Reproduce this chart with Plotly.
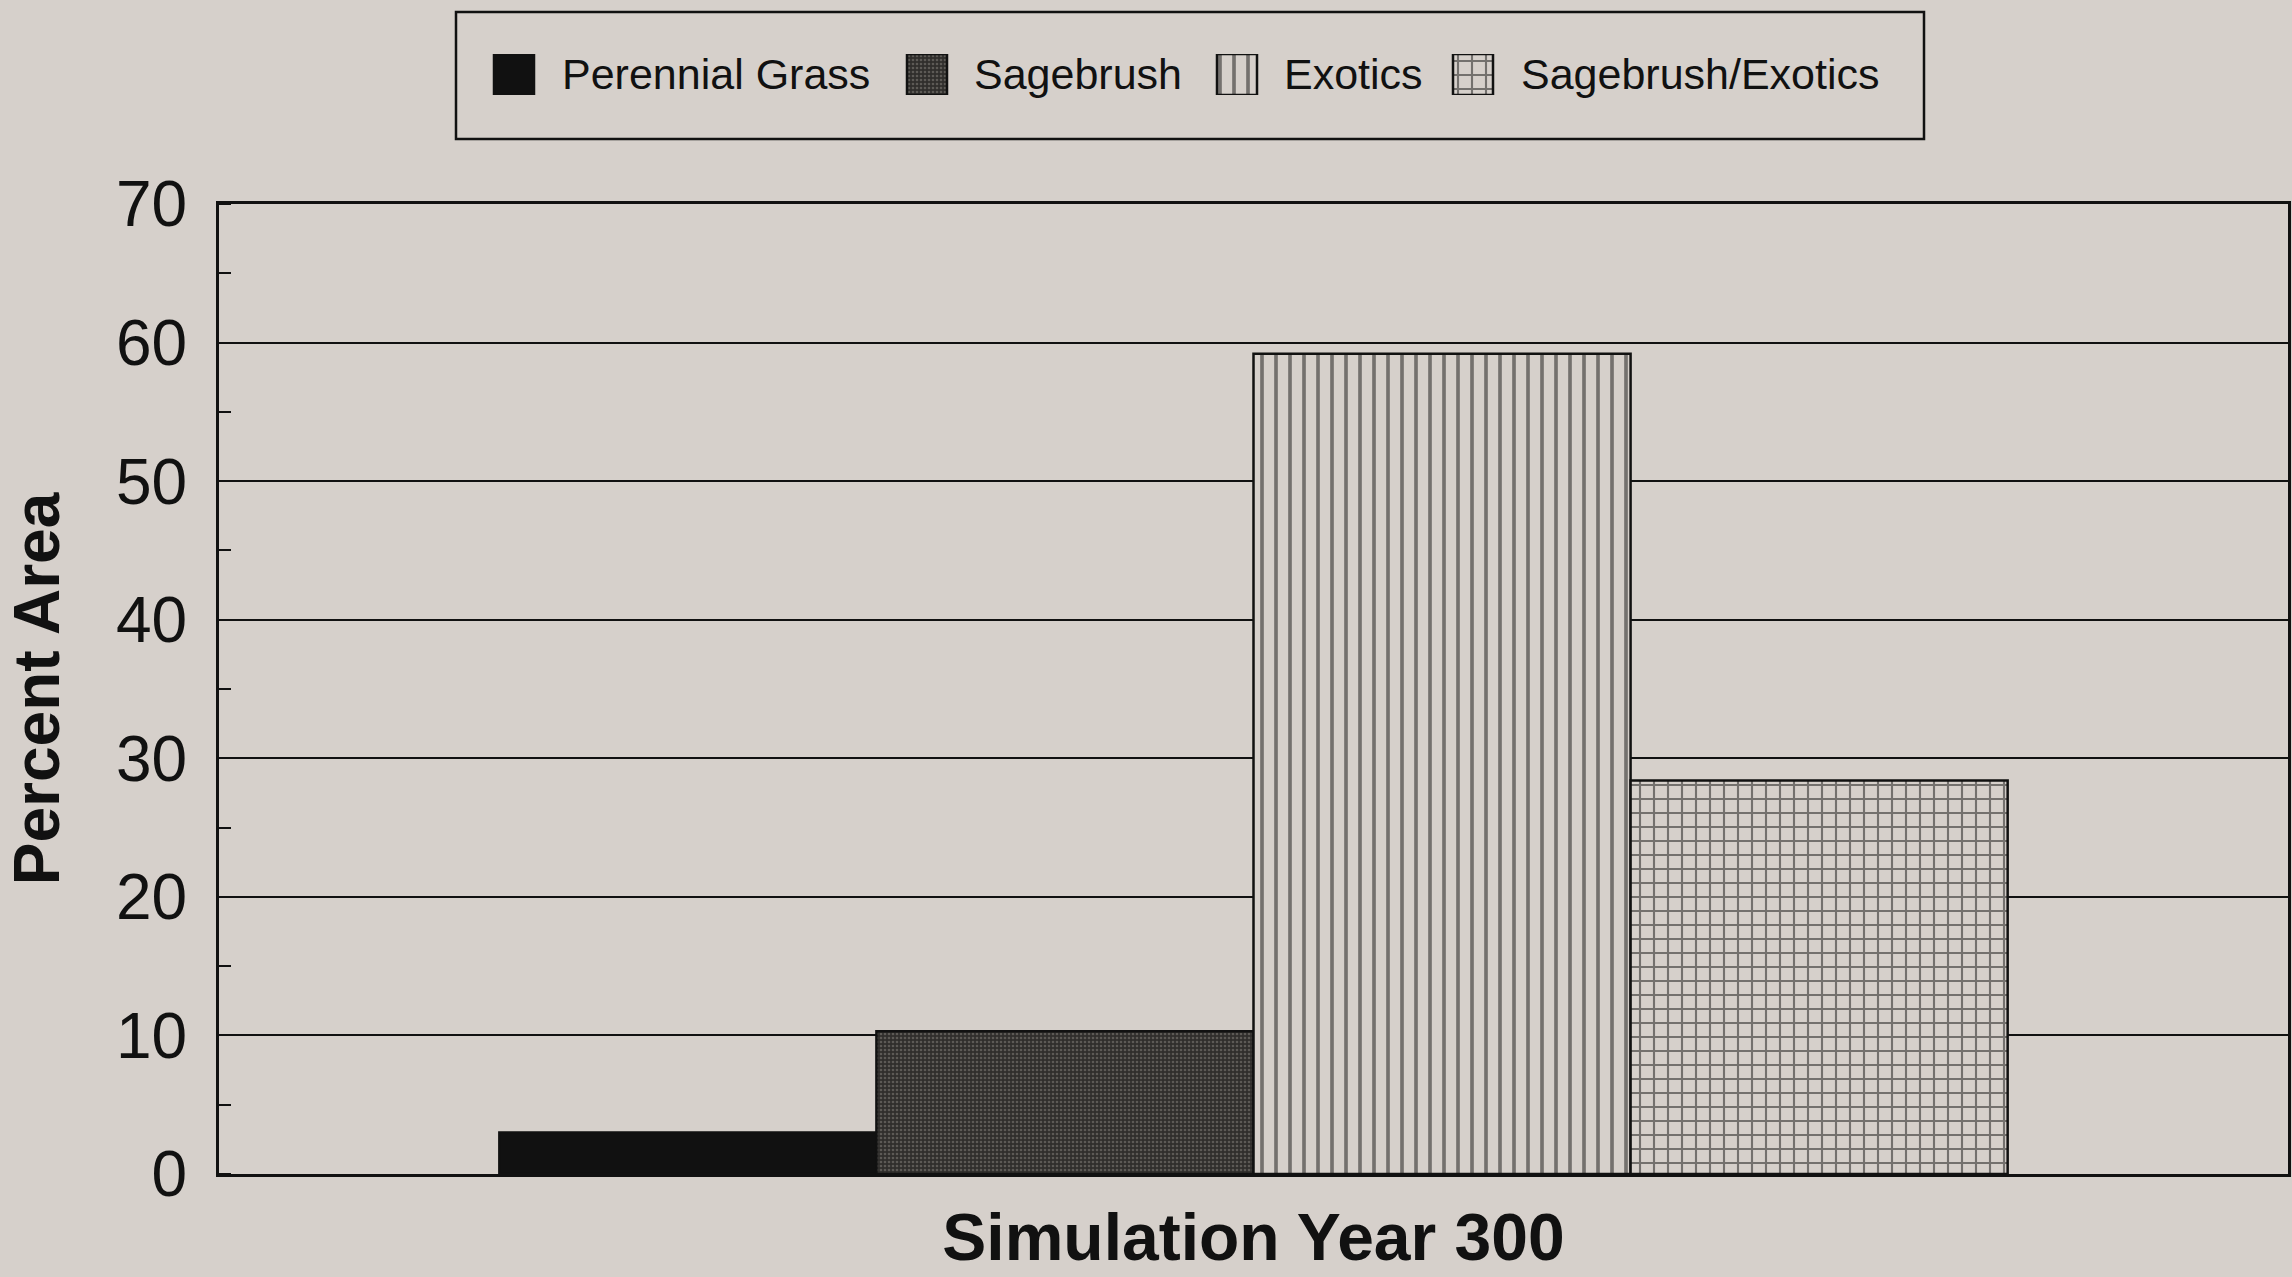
import plotly.graph_objects as go

# data
categories = ["Simulation Year 300"]
series_names = ["Perennial Grass", "Sagebrush", "Exotics", "Sagebrush/Exotics"]
series_values = [3.0, 10.3, 59.2, 28.4]
y_ticks = [0, 10, 20, 30, 40, 50, 60, 70]

BG = "#d6d0cb"
INK = "#111111"
FONT = "Liberation Sans, Arial, sans-serif"
W, H = 2292, 1277
PLOT_L, PLOT_R, PLOT_T, PLOT_B = 219, 2288, 204, 1174

# fill style per series (solid, speckled, vertical hatch, grid hatch)
patterns = [
    dict(shape="", fgcolor=INK, bgcolor=INK),
    dict(shape=".", fgcolor="#8a8580", bgcolor="#302e2c", size=4, solidity=0.35),
    dict(shape="|", fgcolor=INK, bgcolor=BG, size=14, solidity=0.26),
    dict(shape="+", fgcolor=INK, bgcolor=BG, size=14, solidity=0.28),
]
colors = [INK, "#302e2c", BG, BG]

# hand-made legend (plotly's bar swatches are too small to show the hatching)
legend_swatch_x = [514, 927, 1237, 1473]   # page px, swatch centres
legend_text_x = [560, 972, 1282, 1519]     # page px, text starts


def ydom(py):
    # page pixel -> paper fraction (top margin is 0)
    return (PLOT_B - py) / PLOT_B


fig = go.Figure()
for name, val, pat, col in zip(series_names, series_values, patterns, colors):
    fig.add_trace(go.Bar(
        x=categories, y=[val], name=name,
        marker=dict(color=col, pattern=pat, line=dict(color=INK, width=2.5)),
        showlegend=False,
    ))

for name, sx, tx, pat, col in zip(series_names, legend_swatch_x, legend_text_x, patterns, colors):
    fig.add_trace(go.Bar(
        x=[sx], y=[1], width=[40], xaxis="x2", yaxis="y2",
        marker=dict(color=col, pattern=pat, line=dict(color=INK, width=2.5)),
        showlegend=False, hoverinfo="skip",
    ))
    fig.add_annotation(x=tx, y=ydom(74), xref="x2", yref="paper", text=name,
                       showarrow=False, xanchor="left", yanchor="middle",
                       font=dict(size=43, family=FONT, color=INK))

# legend frame
fig.add_shape(type="rect", xref="paper", yref="paper",
              x0=(456 - PLOT_L) / (PLOT_R - PLOT_L), x1=(1924 - PLOT_L) / (PLOT_R - PLOT_L),
              y0=ydom(139), y1=ydom(12),
              line=dict(color=INK, width=2.5), fillcolor="rgba(0,0,0,0)")

fig.update_layout(
    width=W, height=H,
    paper_bgcolor=BG, plot_bgcolor=BG,
    font=dict(family=FONT, color=INK),
    barmode="group", bargap=0.271, bargroupgap=0,
    margin=dict(l=PLOT_L, r=W - PLOT_R, t=0, b=H - PLOT_B),
    showlegend=False,
    xaxis=dict(
        showline=True, mirror=True, linewidth=3, linecolor=INK,
        showgrid=False, ticks="",
        tickfont=dict(size=66, family=FONT, weight="bold", color=INK),
        ticklabelstandoff=4,
        automargin=False,
    ),
    yaxis=dict(
        domain=[0, ydom(PLOT_T)],
        range=[0, 70], tickvals=y_ticks,
        showline=True, mirror=True, linewidth=3, linecolor=INK,
        showgrid=True, gridcolor=INK, gridwidth=1.5, zeroline=False,
        ticks="", tickfont=dict(size=64, family=FONT, color=INK),
        ticklabelstandoff=16,
        minor=dict(dtick=5, ticks="inside", ticklen=12, tickwidth=1.5, tickcolor=INK, showgrid=False),
        title=dict(text="<b>Percent Area</b>", font=dict(size=64, family=FONT, color=INK), standoff=36),
        automargin=False,
    ),
    xaxis2=dict(domain=[0, 1], range=[PLOT_L, PLOT_R], anchor="y2", visible=False),
    yaxis2=dict(domain=[ydom(95), ydom(54)], range=[0, 1], anchor="x2", visible=False),
)

fig.write_html("out.html", config={"displayModeBar": False},
               post_script="document.body.style.margin='0';")
